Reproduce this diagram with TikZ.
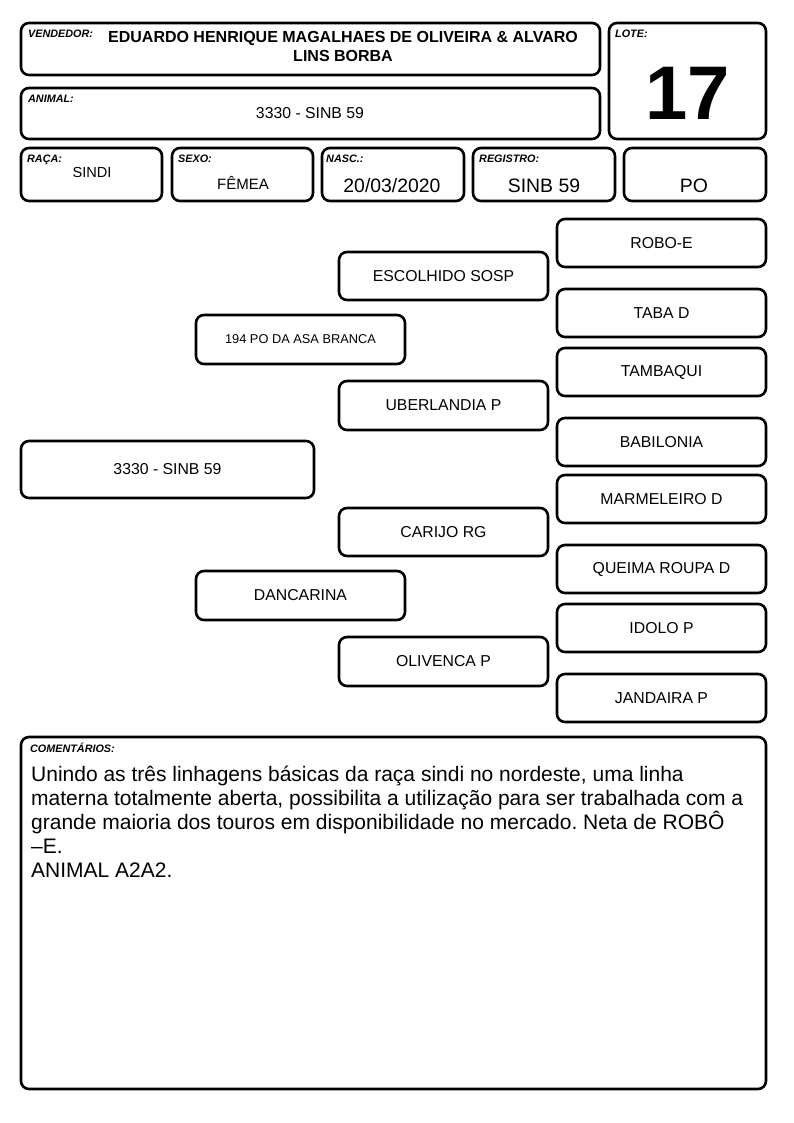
\documentclass[tikz,border=0pt]{standalone}
\usepackage{fontspec}
\setmainfont{Liberation Sans}
\newcommand{\fsz}[1]{\fontsize{#1}{1.2\dimexpr#1pt\relax}\selectfont}
\frenchspacing

\begin{document}
\begin{tikzpicture}[x=1pt,y=-1pt,
    box/.style={draw,rounded corners=8pt,line width=2.6pt,inner sep=0pt},
    lab/.style={anchor=north west,inner sep=0pt,font=\fsz{10.8}\bfseries\itshape},
    val/.style={inner sep=0pt,font=\fsz{15.8}},
    big/.style={inner sep=0pt,font=\fsz{19.4}}]

   \useasboundingbox (0,0) rectangle (794,1123);

   % cabecalho
   \path (310.5,49) node[box,minimum width=579,minimum height=52] (vend) {};
   \path (687.5,81) node[box,minimum width=157,minimum height=116] (lote) {};
   \path (310.5,113.5) node[box,minimum width=579,minimum height=51] (anim) {};
   \path (91.5,174.5) node[box,minimum width=141,minimum height=53] (raca) {};
   \path (242.5,174.5) node[box,minimum width=141,minimum height=53] (sexo) {};
   \path (393,174.5) node[box,minimum width=142,minimum height=53] (nasc) {};
   \path (544,174.5) node[box,minimum width=142,minimum height=53] (reg) {};
   \path (695,174.5) node[box,minimum width=142,minimum height=53] (cat) {};

   \path (28,30) node[lab] (lvend) {VENDEDOR:};
   \path (615,30) node[lab] (llote) {LOTE:};
   \path (28,95) node[lab] (lanim) {ANIMAL:};
   \path (27,155) node[lab] (lraca) {RAÇA:};
   \path (178,155) node[lab] (lsexo) {SEXO:};
   \path (326,155) node[lab] (lnasc) {NASC.:};
   \path (479,155) node[lab] (lreg) {REGISTRO:};

   \path (343,46.5) node[val,align=center,font=\fontsize{16}{19}\selectfont\bfseries] (tvend)
      {EDUARDO HENRIQUE MAGALHAES DE OLIVEIRA \& ALVARO\\LINS BORBA};
   \path (688,93) node[inner sep=0pt,font=\fsz{76}\bfseries] (tlote) {17};
   \path (310,113) node[val] (tanim) {3330 - SINB 59};
   \path (92,172) node[val,font=\fsz{14.6}] (traca) {SINDI};
   \path (243,183) node[val,font=\fsz{15}] (tsexo) {FÊMEA};
   \path (392,186) node[big] (tnasc) {20/03/2020};
   \path (544,186) node[big] (treg) {SINB 59};
   \path (694,186) node[big] (tcat) {PO};

   % genealogia
   \path (167.5,469.5) node[box,val,minimum width=293,minimum height=57] (a) {3330 - SINB 59};
   \path (300.5,339.5) node[box,minimum width=209,minimum height=49,font=\fsz{12.8}] (p) {194 PO DA ASA BRANCA};
   \path (300.5,595.5) node[box,val,minimum width=209,minimum height=49] (m) {DANCARINA};

   \path (443.5,276) node[box,val,minimum width=209,minimum height=48] (pp) {ESCOLHIDO SOSP};
   \path (443.5,405.5) node[box,val,minimum width=209,minimum height=49] (pm) {UBERLANDIA P};
   \path (443.5,532) node[box,val,minimum width=209,minimum height=48] (mp) {CARIJO RG};
   \path (443.5,661.5) node[box,val,minimum width=209,minimum height=49] (mm) {OLIVENCA P};

   \path (661.5,243) node[box,val,minimum width=209,minimum height=48] (ppp) {ROBO-E};
   \path (661.5,313) node[box,val,minimum width=209,minimum height=48] (ppm) {TABA D};
   \path (661.5,372) node[box,val,minimum width=209,minimum height=48] (pmp) {TAMBAQUI};
   \path (661.5,442) node[box,val,minimum width=209,minimum height=48] (pmm) {BABILONIA};
   \path (661.5,499) node[box,val,minimum width=209,minimum height=48] (mpp) {MARMELEIRO D};
   \path (661.5,569) node[box,val,minimum width=209,minimum height=48] (mpm) {QUEIMA ROUPA D};
   \path (661.5,628) node[box,val,minimum width=209,minimum height=48] (mmp) {IDOLO P};
   \path (661.5,698) node[box,val,minimum width=209,minimum height=48] (mmm) {JANDAIRA P};

   % comentarios
   \path (393.5,913) node[box,minimum width=745,minimum height=352] (com) {};
   \path (30,743) node[lab] (lcom) {COMENTÁRIOS:};
   \path (31,766) node[anchor=north west,inner sep=0pt,align=left,font=\fontsize{21}{24}\selectfont] (tcom)
      {Unindo as três linhagens básicas da raça sindi no nordeste, uma linha\\
       materna totalmente aberta, possibilita a utilização para ser trabalhada com a\\
       grande maioria dos touros em disponibilidade no mercado. Neta de ROBÔ\\
       –E.\\
       ANIMAL A2A2.};

\end{tikzpicture}
\end{document}
